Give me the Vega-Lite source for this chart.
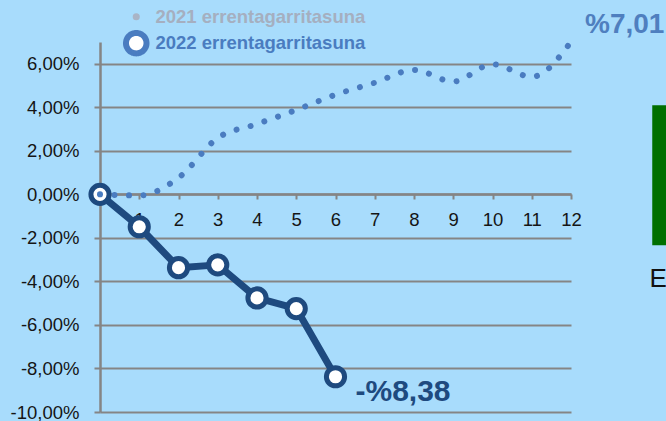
{
  "$schema": "https://vega.github.io/schema/vega-lite/v6.json",
  "autosize": "none",
  "width": 471,
  "height": 370,
  "padding": {"left": 100, "top": 42, "right": 95, "bottom": 9},
  "background": "#a8dcfc",
  "config": {
    "view": {"stroke": null},
    "font": "Liberation Sans",
    "axis": {
      "labelFont": "Liberation Sans",
      "labelFontSize": 18.5,
      "labelColor": "#151515",
      "domainColor": "#858585",
      "domainWidth": 2.5,
      "tickColor": "#858585",
      "tickWidth": 2,
      "gridColor": "#858585",
      "gridWidth": 2,
      "gridOpacity": 1,
      "title": null
    }
  },
  "datasets": {
    "main": [
      {"series": "2021 errentagarritasuna", "month": 0, "value": 0},
      {"series": "2021 errentagarritasuna", "month": 1, "value": -0.05},
      {"series": "2021 errentagarritasuna", "month": 2, "value": 0.76},
      {"series": "2021 errentagarritasuna", "month": 3, "value": 2.59},
      {"series": "2021 errentagarritasuna", "month": 4, "value": 3.23},
      {"series": "2021 errentagarritasuna", "month": 5, "value": 3.88},
      {"series": "2021 errentagarritasuna", "month": 6, "value": 4.58},
      {"series": "2021 errentagarritasuna", "month": 7, "value": 5.13},
      {"series": "2021 errentagarritasuna", "month": 8, "value": 5.72},
      {"series": "2021 errentagarritasuna", "month": 9, "value": 5.18},
      {"series": "2021 errentagarritasuna", "month": 10, "value": 5.98},
      {"series": "2021 errentagarritasuna", "month": 11, "value": 5.4},
      {"series": "2021 errentagarritasuna", "month": 12, "value": 7.01, "label": "%7,01"},
      {"series": "2022 errentagarritasuna", "month": 0, "value": 0},
      {"series": "2022 errentagarritasuna", "month": 1, "value": -1.49},
      {"series": "2022 errentagarritasuna", "month": 2, "value": -3.37},
      {"series": "2022 errentagarritasuna", "month": 3, "value": -3.24},
      {"series": "2022 errentagarritasuna", "month": 4, "value": -4.76},
      {"series": "2022 errentagarritasuna", "month": 5, "value": -5.25},
      {"series": "2022 errentagarritasuna", "month": 6, "value": -8.38, "label": "-%8,38"}
    ],
    "side": [
      {"x": 14.07, "x2": 15.5, "y": 4.09, "y2": -2.34, "label": "E", "tx": 14.0, "ty": -3.9}
    ]
  },
  "layer": [
    {
      "data": {"name": "side"},
      "mark": {"type": "rect", "color": "#006f00", "clip": false},
      "encoding": {
        "x": {"field": "x", "type": "quantitative", "scale": {"domain": [0, 12], "nice": false, "zero": false}},
        "x2": {"field": "x2"},
        "y": {"field": "y", "type": "quantitative", "scale": {"domain": [-10, 7], "nice": false, "zero": false}},
        "y2": {"field": "y2"}
      }
    },
    {
      "data": {"name": "side"},
      "mark": {"type": "text", "align": "left", "baseline": "middle", "fontSize": 26, "color": "#111111", "clip": false},
      "encoding": {
        "x": {"field": "tx", "type": "quantitative"},
        "y": {"field": "ty", "type": "quantitative"},
        "text": {"field": "label"}
      }
    },
    {
      "data": {"name": "main"},
      "transform": [{"filter": "datum.series == '2022 errentagarritasuna'"}],
      "mark": {"type": "line", "strokeWidth": 7, "strokeJoin": "round", "color": "#1e4a7f"},
      "encoding": {
        "x": {
          "field": "month", "type": "quantitative",
          "axis": {"offset": -218, "values": [1,2,3,4,5,6,7,8,9,10,11,12], "tickSize": 5, "labelPadding": 11, "grid": false, "labelFlush": false}
        },
        "y": {
          "field": "value", "type": "quantitative",
          "axis": {"values": [-10,-8,-6,-4,-2,0,2,4,6], "tickSize": 6, "labelPadding": 15, "grid": true,
            "labelExpr": "(datum.value < 0 ? '-' : '') + replace(format(abs(datum.value), '.2f'), '.', ',') + '%'"}
        }
      }
    },
    {
      "data": {"name": "main"},
      "transform": [{"filter": "datum.series == '2022 errentagarritasuna'"}],
      "mark": {"type": "point", "filled": true, "fill": "#ffffff", "stroke": "#1e4a7f", "strokeWidth": 5, "size": 330, "opacity": 1},
      "encoding": {
        "x": {"field": "month", "type": "quantitative"},
        "y": {"field": "value", "type": "quantitative"}
      }
    },
    {
      "data": {"name": "main"},
      "transform": [{"filter": "datum.series == '2021 errentagarritasuna'"}],
      "mark": {"type": "line", "interpolate": "monotone", "strokeWidth": 6, "strokeCap": "round", "strokeDash": [0.01, 14.5], "clip": false},
      "encoding": {
        "x": {"field": "month", "type": "quantitative"},
        "y": {"field": "value", "type": "quantitative"},
        "color": {
          "field": "series", "type": "nominal",
          "scale": {"domain": ["2021 errentagarritasuna", "2022 errentagarritasuna"], "range": ["#4a7cc0", "#4a7cc0"]},
          "legend": {
            "title": null, "orient": "none", "legendX": 27, "legendY": -34.5,
            "symbolType": "circle", "labelFont": "Liberation Sans", "labelFontSize": 18.5, "labelFontWeight": "bold",
            "labelLimit": 0, "rowPadding": -5.6, "labelOffset": 10, "symbolSize": 420,
            "encode": {
              "symbols": {"update": {
                "shape": {"value": "circle"},
                "fill": {"signal": "datum.value == '2021 errentagarritasuna' ? '#a9b4c6' : '#ffffff'"},
                "strokeWidth": {"signal": "datum.value == '2021 errentagarritasuna' ? 0 : 6"},
                "size": {"signal": "datum.value == '2021 errentagarritasuna' ? 50 : 420"},
                "strokeDash": {"value": [1, 0]},
                "opacity": {"value": 1}
              }},
              "labels": {"update": {
                "fill": {"signal": "datum.value == '2021 errentagarritasuna' ? '#a5afc0' : '#4a7cc0'"}
              }}
            }
          }
        }
      }
    },
    {
      "data": {"name": "main"},
      "transform": [{"filter": "datum.series == '2021 errentagarritasuna' && datum.label"}],
      "mark": {"type": "text", "align": "left", "baseline": "middle", "dx": 14, "dy": -17, "fontSize": 28, "fontWeight": "bold", "color": "#4f7fbf", "clip": false},
      "encoding": {
        "x": {"field": "month", "type": "quantitative"},
        "y": {"field": "value", "type": "quantitative"},
        "text": {"field": "label"}
      }
    },
    {
      "data": {"name": "main"},
      "transform": [{"filter": "datum.series == '2022 errentagarritasuna' && datum.label"}],
      "mark": {"type": "text", "align": "left", "baseline": "middle", "dx": 20, "dy": 15, "fontSize": 30, "fontWeight": "bold", "color": "#1e4a7f"},
      "encoding": {
        "x": {"field": "month", "type": "quantitative"},
        "y": {"field": "value", "type": "quantitative"},
        "text": {"field": "label"}
      }
    }
  ]
}
